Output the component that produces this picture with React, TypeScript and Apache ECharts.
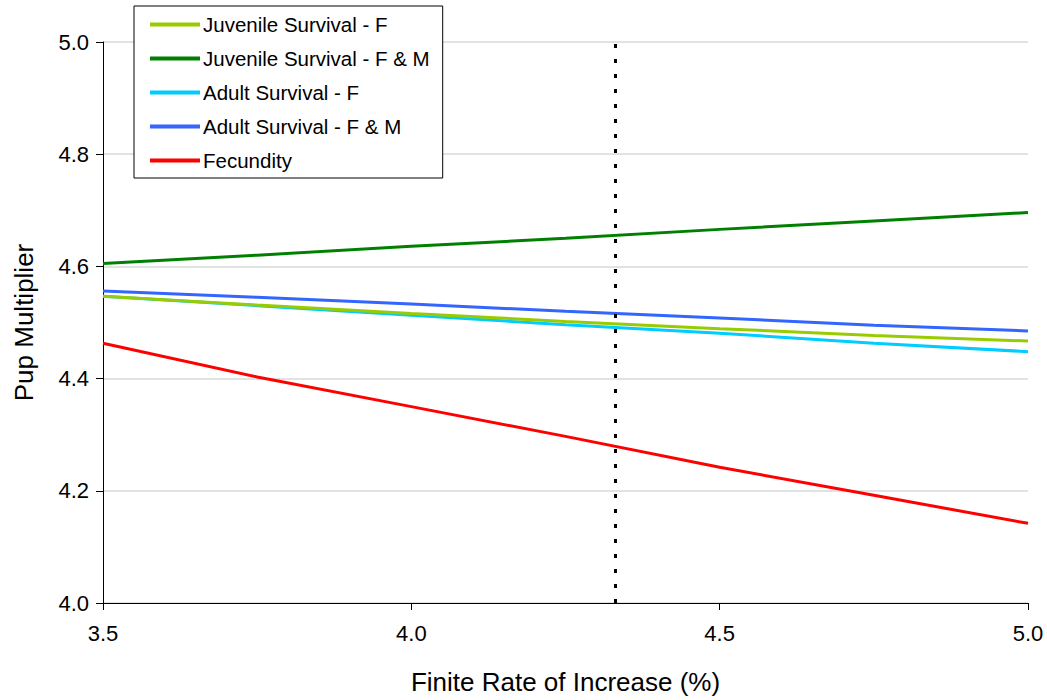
import React, { useEffect, useRef } from "react";
import * as echarts from "echarts";

const xValues = [3.5, 3.75, 4.0, 4.25, 4.5, 4.75, 5.0];
const juvenileF = [4.547, 4.531, 4.516, 4.502, 4.489, 4.477, 4.467];
const juvenileFM = [4.605, 4.620, 4.636, 4.650, 4.666, 4.681, 4.696];
const adultF = [4.547, 4.530, 4.513, 4.496, 4.481, 4.463, 4.448];
const adultFM = [4.556, 4.545, 4.533, 4.520, 4.508, 4.495, 4.485];
const fecundity = [4.463, 4.403, 4.350, 4.297, 4.242, 4.192, 4.142];
const referenceRate = 4.33;

const seriesNames = [
  "Juvenile Survival - F",
  "Juvenile Survival - F & M",
  "Adult Survival - F",
  "Adult Survival - F & M",
  "Fecundity",
];
const seriesColors = ["#99CC00", "#008000", "#00CCFF", "#3366FF", "#FF0000"];
const seriesValues = [juvenileF, juvenileFM, adultF, adultFM, fecundity];

const FONT = "'Liberation Sans', Arial, sans-serif";

export default function App() {
  const ref = useRef<HTMLDivElement>(null);
  useEffect(() => {
    if (!ref.current) return;
    const chart = echarts.init(ref.current, undefined, { renderer: "svg" });
    const series: any[] = seriesNames.map((name, i) => ({
      name,
      type: "line",
      data: xValues.map((x, j) => [x, seriesValues[i][j]]),
      showSymbol: false,
      symbol: "none",
      lineStyle: { color: seriesColors[i], width: 3 },
      itemStyle: { color: seriesColors[i] },
      z: 3 + (i === 0 ? 1 : 0),
    }));
    series[4].markLine = {
      silent: true,
      symbol: "none",
      label: { show: false },
      lineStyle: { color: "#000", width: 3, type: [4, 11] },
      data: [{ xAxis: referenceRate }],
    };
    chart.setOption({
      animation: false,
      backgroundColor: "#fff",
      textStyle: { fontFamily: FONT },
      grid: { left: 103, right: 19, top: 42, bottom: 95 },
      legend: {
        left: 134,
        top: 6,
        orient: "vertical",
        backgroundColor: "#fff",
        borderColor: "#000",
        borderWidth: 1,
        padding: [8, 13, 7, 16],
        itemWidth: 50,
        itemHeight: 4,
        itemGap: 13,
        icon: "rect",
        textStyle: { fontFamily: FONT, fontSize: 20.5, lineHeight: 20, color: "#000", padding: [0, 0, 0, -2] },
        data: seriesNames,
      },
      xAxis: {
        type: "value",
        min: 3.5,
        max: 5.0,
        interval: 0.5,
        name: "Finite Rate of Increase (%)",
        nameLocation: "middle",
        nameGap: 66,
        nameTextStyle: { fontFamily: FONT, fontSize: 26, color: "#000" },
        axisLine: { show: true, lineStyle: { color: "#000", width: 1 } },
        axisTick: { show: true, length: 7, lineStyle: { color: "#000" } },
        axisLabel: {
          fontFamily: FONT,
          fontSize: 22,
          color: "#000",
          margin: 19,
          formatter: (v: number) => v.toFixed(1),
        },
        splitLine: { show: false },
      },
      yAxis: {
        type: "value",
        min: 4.0,
        max: 5.0,
        interval: 0.2,
        name: "Pup Multiplier",
        nameLocation: "middle",
        nameGap: 66,
        nameTextStyle: { fontFamily: FONT, fontSize: 26, color: "#000" },
        axisLine: { show: true, lineStyle: { color: "#000", width: 1 } },
        axisTick: { show: true, length: 7, lineStyle: { color: "#000" } },
        axisLabel: {
          fontFamily: FONT,
          fontSize: 22,
          color: "#000",
          margin: 14,
          formatter: (v: number) => v.toFixed(1),
        },
        splitLine: { show: true, lineStyle: { color: "#D9D9D9", width: 1.5 } },
      },
      series,
    });
    return () => chart.dispose();
  }, []);
  return (
    <div
      ref={ref}
      style={{ position: "fixed", left: 0, top: 0, width: 1047, height: 700 }}
    />
  );
}
